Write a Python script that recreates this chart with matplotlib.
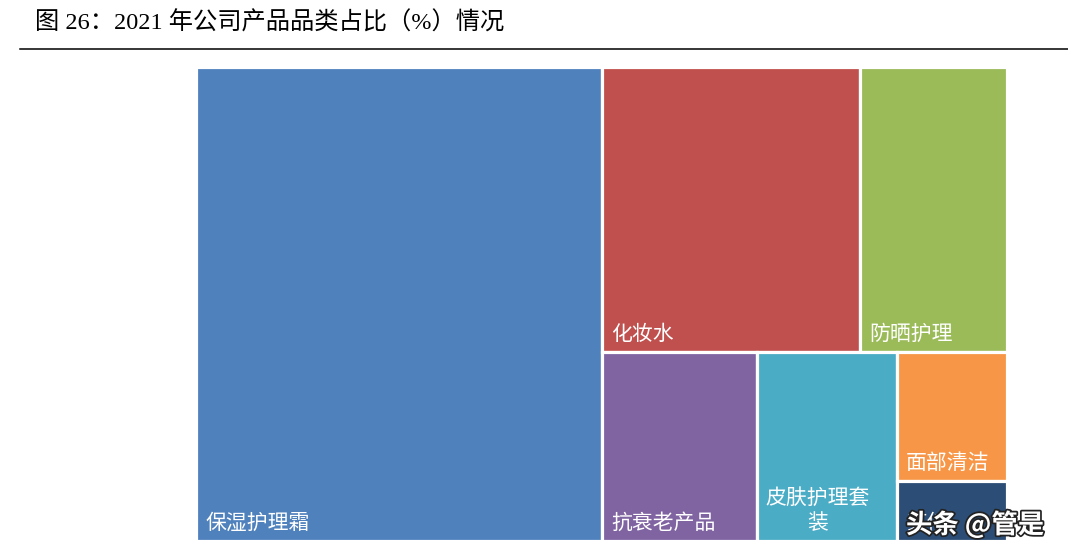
import matplotlib
matplotlib.use("Agg")
import matplotlib.pyplot as plt
from matplotlib.patches import Rectangle
import matplotlib.patheffects as pe

plt.rcParams['font.family'] = ['Noto Sans CJK SC', 'DejaVu Sans']

categories = ['保湿护理霜', '化妆水', '防晒护理', '抗衰老产品', '皮肤护理套装', '面部清洁', '其他']
shares = [50.0, 19.1, 10.9, 7.6, 6.9, 3.7, 1.7]
colors = ['#4F81BD', '#C0504D', '#9BBB59', '#8064A2', '#4BACC6', '#F79646', '#2C4D75']

title = '图 26：2021 年公司产品品类占比（%）情况'
watermark = '头条 @管是'

W, H = 811, 474  # treemap area in pixels


def worst(row, side):
    s = sum(row)
    return max(max(side ** 2 * r / s ** 2, s ** 2 / (side ** 2 * r)) for r in row)


def squarify(values, x, y, w, h):
    total = sum(values)
    sizes = [v * w * h / total for v in values]
    rects = []
    while sizes:
        side = min(w, h)
        row = [sizes[0]]
        i = 1
        while i < len(sizes) and worst(row + [sizes[i]], side) <= worst(row, side):
            row.append(sizes[i])
            i += 1
        s = sum(row)
        if w >= h:
            cw = s / h
            yy = y
            for r in row:
                rects.append((x, yy, cw, r / cw))
                yy += r / cw
            x += cw
            w -= cw
        else:
            rh = s / w
            xx = x
            for r in row:
                rects.append((xx, y, r / rh, rh))
                xx += r / rh
            y += rh
            h -= rh
        sizes = sizes[i:]
    return rects


def wrap(label, width, fs):
    char_px = fs * 100 / 72
    n = max(1, int((width - 16) // char_px))
    return '\n'.join(label[i:i + n] for i in range(0, len(label), n))


fig = plt.figure(figsize=(10.68, 5.54), dpi=100)
ax = fig.add_axes([196 / 1068, 1 - 541 / 554, W / 1068, H / 554])
ax.set_xlim(0, W)
ax.set_ylim(H, 0)
ax.axis('off')

fs = 15
for (x, y, w, h), lab, c in zip(squarify(shares, 0, 0, W, H), categories, colors):
    ax.add_patch(Rectangle((x, y), w, h, facecolor=c, edgecolor='white', linewidth=2.3))
    ax.text(x + 9, y + h - 7, wrap(lab, w, fs), color='white', fontsize=fs,
            ha='left', va='bottom', multialignment='center')

fig.text(35 / 1068, 1 - 30 / 554, title, fontsize=17.5, va='baseline', ha='left',
         family=['Liberation Serif', 'Noto Sans CJK SC'])
fig.add_artist(plt.Line2D([20 / 1068, 1.0], [1 - 49 / 554] * 2, color='black', linewidth=1.1))

# watermark sits over the last box in the source image
fig.text(906 / 1068, 1 - 533 / 554, watermark, fontsize=19, fontweight='bold', color='white',
         va='baseline', ha='left', zorder=5,
         path_effects=[pe.withStroke(linewidth=2.5, foreground='#222222')])

fig.savefig('out.png', dpi=100)
